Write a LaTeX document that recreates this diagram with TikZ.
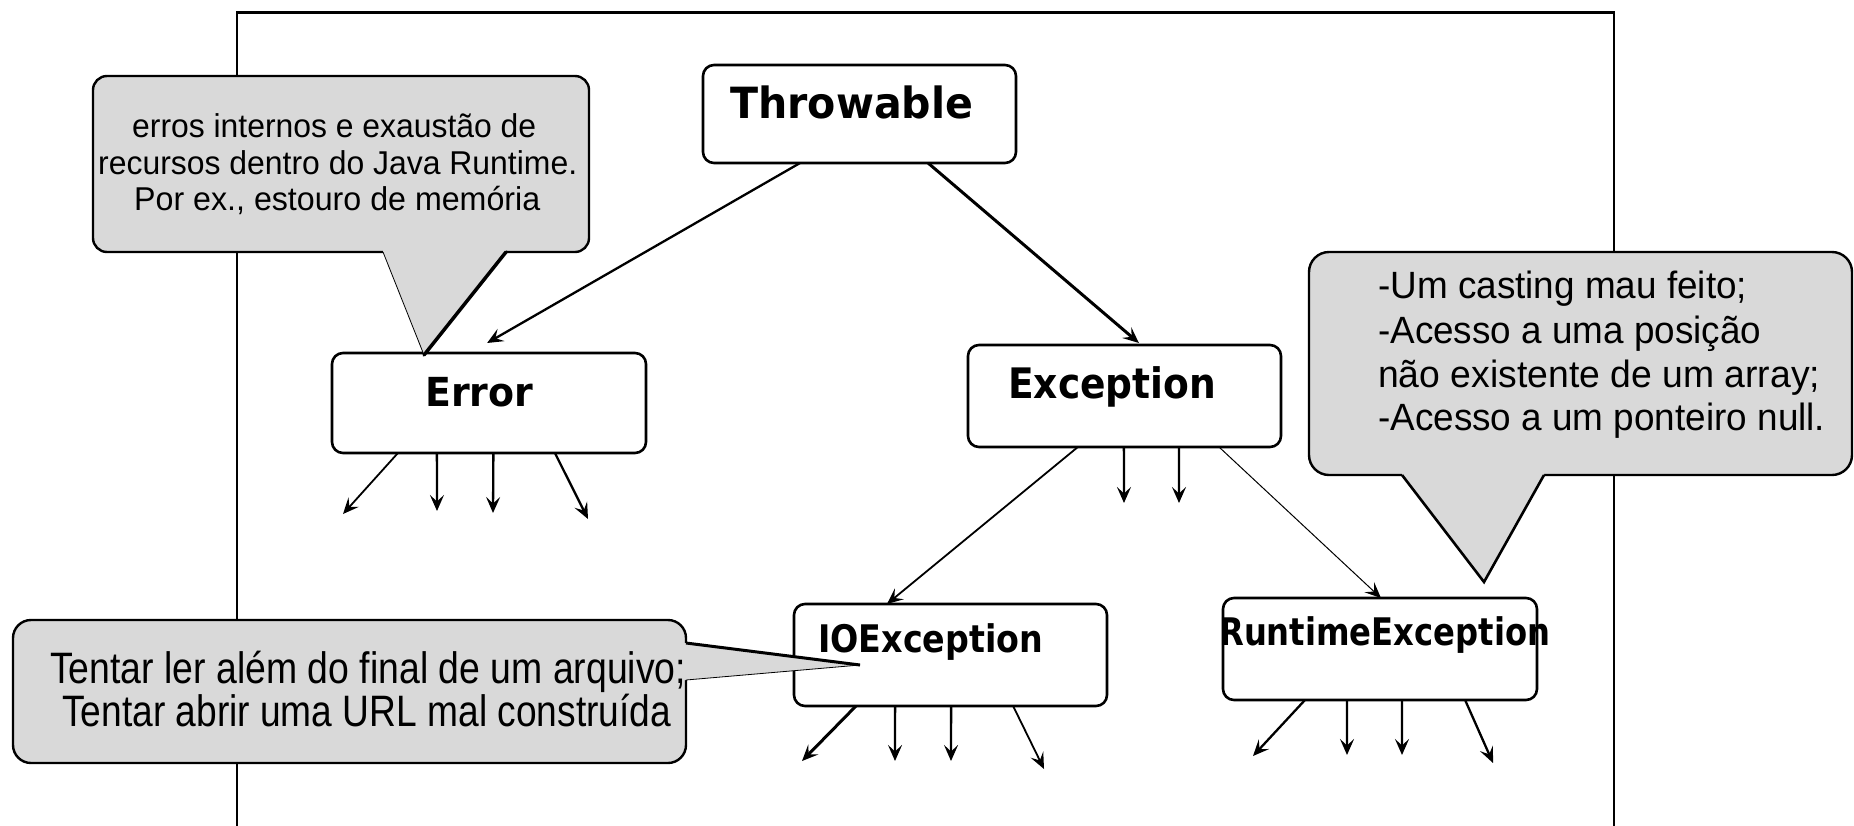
\documentclass[tikz,border=0pt]{standalone}
\usepackage{graphicx}
\usepackage{fontspec}
\setmainfont{Liberation Sans}
\newfontfamily\lblfont{DejaVu Sans}
\usetikzlibrary{arrows.meta,calc}
\definecolor{cgray}{RGB}{217,217,217}
\newcommand\fitto[2]{\resizebox{#1}{\height}{#2}}
\begin{document}
\begin{tikzpicture}[x=1pt,y=-1pt,
  box/.style={draw,fill=white,line width=2.6pt,rounded corners=11pt,anchor=north west,inner sep=0pt,outer sep=0pt},
  lbl/.style={anchor=base west,inner sep=0pt,font=\lblfont\bfseries},
  ctxt/.style={anchor=base west,inner sep=0pt},
  cbody/.style={fill=cgray,draw,line width=2.4pt},
  arr/.style={line width=2.3pt,-{Stealth[length=16pt,width=14pt,inset=6.5pt]}},
  frame/.style={line width=2.5pt}
]
\useasboundingbox (0,0) rectangle (1854,825);
% outer frame
\coordinate (fbl) at (237,830);
\coordinate (ftl) at (237,12.7);
\coordinate (ftr) at (1614,12.7);
\coordinate (fbr) at (1614,830);
\draw[frame] (fbl) -- (ftl) -- (ftr) -- (fbr);

% callout bodies
\draw[cbody,rounded corners=14pt] (93,76) rectangle (589,252);
\draw[cbody,rounded corners=20pt] (1309,252) rectangle (1852,475);
\draw[cbody,rounded corners=18pt] (13,620) rectangle (686,763);

% boxes
\node[box,minimum width=313pt,minimum height=98pt] (thr) at (703,65) {};
\node[box,minimum width=314pt,minimum height=100pt] (err) at (332,353) {};
\node[box,minimum width=313pt,minimum height=102pt] (exc) at (968,345) {};
\node[box,minimum width=313pt,minimum height=102pt] (io) at (794,604) {};
\node[box,minimum width=314pt,minimum height=102pt] (rt) at (1223,598) {};

% callout tails (over the boxes)
\fill[cgray] (383,248) -- (383,252) -- (424,355) -- (506,252) -- (506,248) -- cycle;
\draw[line width=0.8pt] (383,252) -- (424,355);
\draw[line width=3.5pt,line cap=round] (424,355) -- (506,252);

\fill[cgray] (1402,471) -- (1402,475) -- (1484,582) -- (1544,475) -- (1544,471) -- cycle;
\draw[line width=2.6pt] (1402,475) -- (1484,582) -- (1544,475);

\fill[cgray] (682,643) -- (686,643) -- (860,665) -- (686,680) -- (682,680) -- cycle;
\draw[line width=3pt] (686,643) -- (860,665);
\draw[line width=0.8pt] (860,665) -- (686,680);

% labels
\node[lbl] (thrt) at (730,118) {\fontsize{43pt}{43pt}\selectfont\fitto{243pt}{Throwable}};
\node[lbl] (errt) at (425,406) {\fontsize{40pt}{40pt}\selectfont\fitto{108pt}{Error}};
\node[lbl] (exct) at (1008,398) {\fontsize{42pt}{42pt}\selectfont\fitto{208pt}{Exception}};
\node[lbl] (iot) at (818,652) {\fontsize{38pt}{38pt}\selectfont\fitto{225pt}{IOException}};
\node[lbl] (rtt) at (1219,645) {\fontsize{38pt}{38pt}\selectfont\fitto{331pt}{RuntimeException}};

% callout texts
\node[ctxt] (c1a) at (132,137) {\fontsize{33pt}{33pt}\selectfont\fitto{404pt}{erros internos e exaustão de}};
\node[ctxt] (c1b) at (98,174) {\fontsize{33pt}{33pt}\selectfont\fitto{479pt}{recursos dentro do Java Runtime.}};
\node[ctxt] (c1c) at (134,210) {\fontsize{33pt}{33pt}\selectfont\fitto{406pt}{Por ex., estouro de memória}};

\node[ctxt] (c2a) at (1378,298) {\fontsize{38pt}{38pt}\selectfont\fitto{369pt}{-Um casting mau feito;}};
\node[ctxt] (c2b) at (1378,343) {\fontsize{38pt}{38pt}\selectfont\fitto{383pt}{-Acesso a uma posição}};
\node[ctxt] (c2c) at (1378,387) {\fontsize{38pt}{38pt}\selectfont\fitto{442pt}{não existente de um array;}};
\node[ctxt] (c2d) at (1378,430) {\fontsize{38pt}{38pt}\selectfont\fitto{447pt}{-Acesso a um ponteiro null.}};

\node[ctxt] (c3a) at (50,683) {\fontsize{44pt}{44pt}\selectfont\fitto{636pt}{Tentar ler além do final de um arquivo;}};
\node[ctxt] (c3b) at (62,726) {\fontsize{44pt}{44pt}\selectfont\fitto{609pt}{Tentar abrir uma URL mal construída}};

% hierarchy arrows
\draw[arr] ($(thr.south west)!0.31!(thr.south east)$) -- ($(err.north west)!0.494!(err.north east)+(0,-10)$);
\draw[arr,line width=3pt] ($(thr.south west)!0.719!(thr.south east)$) -- ($(exc.north west)!0.546!(exc.north east)+(0,-2)$);
\draw[arr,line width=1.8pt] ($(exc.south west)!0.351!(exc.south east)$) -- ($(io.north west)!0.297!(io.north east)$);
\draw[arr,line width=1pt] ($(exc.south west)!0.802!(exc.south east)$) -- ($(rt.north west)!0.503!(rt.north east)$);

% free-end arrows
\coordinate (e1) at (343,514);
\coordinate (e2) at (437,511);
\coordinate (e3) at (493,513);
\coordinate (e4) at (588,519);
\draw[arr,line width=1.8pt] ($(err.south west)!0.21!(err.south east)$) -- (e1);
\draw[arr] ($(err.south west)!0.334!(err.south east)$) -- (e2);
\draw[arr] ($(err.south west)!0.514!(err.south east)$) -- (e3);
\draw[arr] ($(err.south west)!0.71!(err.south east)$) -- (e4);

\coordinate (x1) at (1124,503);
\coordinate (x2) at (1179,503);
\draw[arr] ($(exc.south west)!0.498!(exc.south east)$) -- (x1);
\draw[arr] ($(exc.south west)!0.674!(exc.south east)$) -- (x2);

\coordinate (i1) at (802,761);
\coordinate (i2) at (895,761);
\coordinate (i3) at (951,761);
\coordinate (i4) at (1044,769);
\draw[arr,line width=3pt] ($(io.south west)!0.198!(io.south east)$) -- (i1);
\draw[arr] ($(io.south west)!0.323!(io.south east)$) -- (i2);
\draw[arr] ($(io.south west)!0.502!(io.south east)$) -- (i3);
\draw[arr,line width=1.8pt] ($(io.south west)!0.70!(io.south east)$) -- (i4);

\coordinate (r1) at (1253,756);
\coordinate (r2) at (1347,755);
\coordinate (r3) at (1402,755);
\coordinate (r4) at (1493,763);
\draw[arr] ($(rt.south west)!0.261!(rt.south east)$) -- (r1);
\draw[arr] ($(rt.south west)!0.395!(rt.south east)$) -- (r2);
\draw[arr] ($(rt.south west)!0.570!(rt.south east)$) -- (r3);
\draw[arr] ($(rt.south west)!0.771!(rt.south east)$) -- (r4);
\end{tikzpicture}
\end{document}
